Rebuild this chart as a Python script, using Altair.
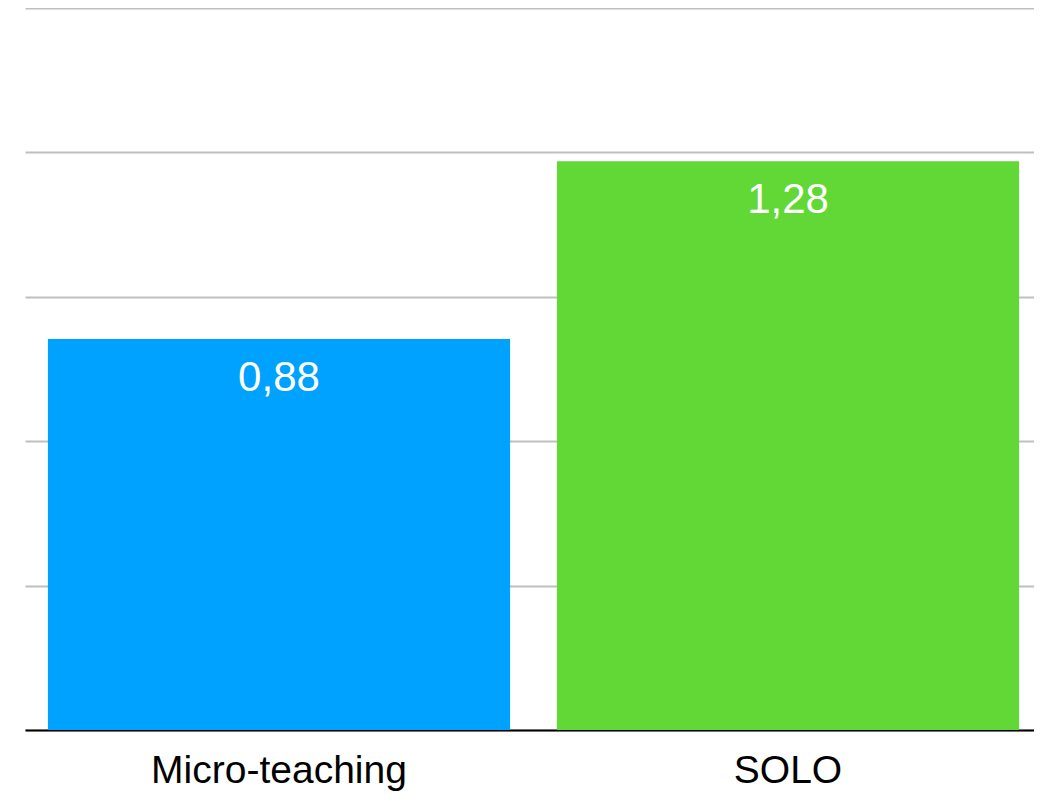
import altair as alt
import pandas as pd

categories = ["Micro-teaching", "SOLO"]
values = [0.88, 1.28]
colors = ["#00A2FF", "#61D836"]
grid_values = [0, 0.325, 0.65, 0.975, 1.3, 1.625]

df = pd.DataFrame({"category": categories, "value": values})

x = alt.X(
    "category:N",
    sort=categories,
    scale=alt.Scale(paddingInner=0.092, paddingOuter=0.045),
    axis=alt.Axis(
        title=None, labelAngle=0, labelFontSize=39, labelColor="#000000",
        labelFont="Liberation Sans", labelLimit=0, domainColor="#000000", domainWidth=2,
        ticks=False, tickSize=0, labelPadding=21,
    ),
)
y = alt.Y(
    "value:Q",
    scale=alt.Scale(domain=[0, 1.625], nice=False),
    axis=alt.Axis(
        title=None, labels=False, domain=False, ticks=False, tickSize=0,
        grid=True, gridColor="#bfbfbf", gridWidth=2, values=grid_values,
    ),
)

bars = alt.Chart(df).mark_bar().encode(
    x=x,
    y=y,
    color=alt.Color("category:N", scale=alt.Scale(domain=categories, range=colors), legend=None),
)

labels = alt.Chart(df).transform_calculate(
    label="replace(format(datum.value, '.2f'), '.', ',')"
).mark_text(
    baseline="middle", dy=39, color="white", fontSize=42, font="Liberation Sans"
).encode(
    x=alt.X("category:N", sort=categories),
    y=alt.Y("value:Q"),
    text="label:N",
)

chart = (bars + labels).properties(
    width=1017, height=722,
    autosize=alt.AutoSizeParams(type="none"),
    padding={"left": 17, "top": 0, "right": -8, "bottom": 63},
).configure(background="white").configure_view(stroke=None)

chart.save("out.html", embed_options={"renderer": "svg", "actions": False})
